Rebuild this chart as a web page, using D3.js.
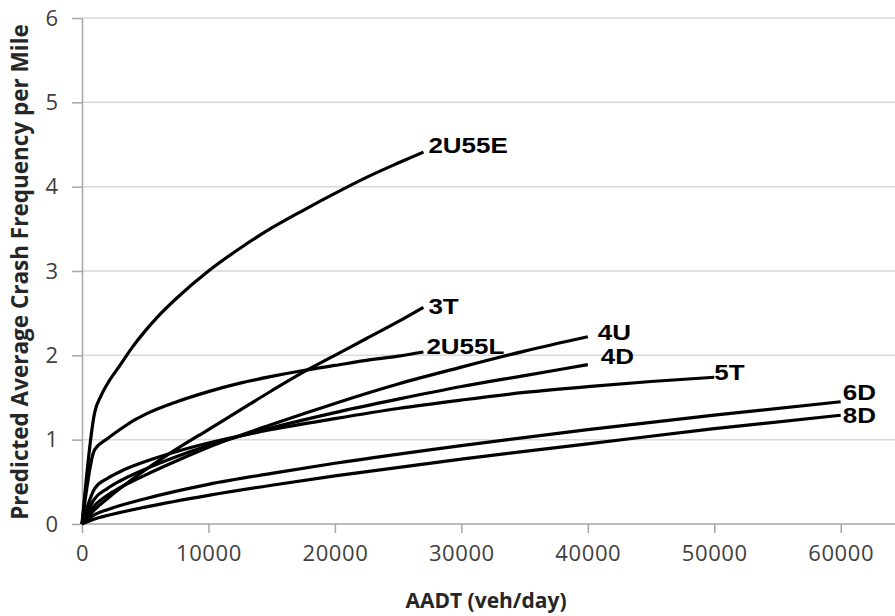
<!DOCTYPE html>
<html>
<head>
<meta charset="utf-8">
<script src="https://cdn.jsdelivr.net/npm/d3@7"></script>
<style>
  html, body { margin: 0; padding: 0; background: #fff; }
  svg { display: block; }
</style>
</head>
<body>
<svg id="chart" width="895" height="616"></svg>
<script>
// Predicted average crash frequency per mile vs. AADT, by facility type
const seriesNames = ["2U55E", "2U55L", "3T", "4U", "4D", "5T", "6D", "8D"];

const aadt2U55E  = [0, 1000, 1500, 2000, 3000, 4000, 5000, 6000, 7500, 10000, 12500, 15000, 17500, 20000, 22500, 25000, 27000];
const crash2U55E = [0, 1.32, 1.52, 1.66, 1.88, 2.10, 2.29, 2.46, 2.68, 3.00, 3.27, 3.51, 3.72, 3.92, 4.11, 4.28, 4.41];

const aadt2U55L  = [0, 1000, 2000, 3000, 4000, 5000, 7500, 10000, 12500, 15000, 17500, 20000, 22500, 25000, 27000];
const crash2U55L = [0, 0.88, 1.01, 1.12, 1.22, 1.30, 1.45, 1.57, 1.67, 1.75, 1.82, 1.88, 1.94, 1.99, 2.04];

const aadt3T  = [0, 1000, 2000, 3000, 5000, 7500, 10000, 12500, 15000, 17500, 20000, 22500, 25000, 27000];
const crash3T = [0, 0.17, 0.30, 0.42, 0.64, 0.89, 1.12, 1.35, 1.58, 1.80, 2.00, 2.20, 2.40, 2.57];

const aadt4U  = [0, 1000, 2000, 3000, 5000, 7500, 10000, 15000, 20000, 25000, 30000, 35000, 40000];
const crash4U = [0, 0.22, 0.34, 0.43, 0.58, 0.75, 0.91, 1.18, 1.43, 1.66, 1.86, 2.05, 2.22];

const aadt4D  = [0, 1000, 2000, 3000, 5000, 7500, 10000, 15000, 20000, 25000, 30000, 35000, 40000];
const crash4D = [0, 0.30, 0.42, 0.51, 0.65, 0.80, 0.93, 1.14, 1.32, 1.48, 1.63, 1.76, 1.89];

const aadt5T  = [0, 1000, 2000, 3000, 5000, 7500, 10000, 15000, 20000, 25000, 30000, 35000, 40000, 45000, 50000];
const crash5T = [0, 0.42, 0.54, 0.62, 0.74, 0.86, 0.96, 1.12, 1.25, 1.37, 1.47, 1.56, 1.63, 1.69, 1.74];

const aadt6D  = [0, 1000, 2000, 5000, 10000, 15000, 20000, 30000, 40000, 50000, 60000];
const crash6D = [0, 0.11, 0.17, 0.30, 0.47, 0.60, 0.72, 0.93, 1.12, 1.29, 1.45];

const aadt8D  = [0, 1000, 2000, 5000, 10000, 15000, 20000, 30000, 40000, 50000, 60000];
const crash8D = [0, 0.06, 0.10, 0.20, 0.34, 0.46, 0.57, 0.77, 0.95, 1.13, 1.29];

const xTicks = [0, 10000, 20000, 30000, 40000, 50000, 60000];
const yTicks = [0, 1, 2, 3, 4, 5, 6];

const xTitle = "AADT (veh/day)";
const yTitle = "Predicted Average Crash Frequency per Mile";

const seriesData = {
  "2U55E": [aadt2U55E, crash2U55E],
  "2U55L": [aadt2U55L, crash2U55L],
  "3T":    [aadt3T, crash3T],
  "4U":    [aadt4U, crash4U],
  "4D":    [aadt4D, crash4D],
  "5T":    [aadt5T, crash5T],
  "6D":    [aadt6D, crash6D],
  "8D":    [aadt8D, crash8D]
};

// Placement of each end-of-line label relative to the last point
const labelOffset = {
  "2U55E": [5, -7], "2U55L": [3, -6], "3T": [5, -1], "4U": [10, -5],
  "4D": [13, -8], "5T": [0, -5], "6D": [2, -9], "8D": [2, 0]
};

const svg = d3.select("#chart");
const plotLeft = 82, plotRight = 895, plotTop = 18, plotBottom = 524;

const x = d3.scaleLinear().domain([0, 60000]).range([plotLeft, 840.7]);
const y = d3.scaleLinear().domain([0, 6]).range([plotBottom, plotTop]);

// Horizontal gridlines
svg.append("g")
  .selectAll("line")
  .data(yTicks.filter(d => d > 0))
  .join("line")
  .attr("x1", plotLeft).attr("x2", plotRight)
  .attr("y1", d => y(d)).attr("y2", d => y(d))
  .attr("stroke", "#d9d9d9").attr("stroke-width", 1.5);

// Y axis
const yAxis = svg.append("g")
  .attr("transform", `translate(${plotLeft},0)`)
  .call(d3.axisLeft(y).tickValues(yTicks).tickFormat(d3.format("d"))
    .tickSize(10).tickSizeOuter(0).tickPadding(14));
yAxis.select(".domain").attr("stroke", "#a6a6a6").attr("stroke-width", 1.5);
yAxis.selectAll(".tick line").attr("stroke", "#a6a6a6").attr("stroke-width", 1.5);
yAxis.selectAll(".tick text")
  .attr("font-family", "'Open Sans', sans-serif")
  .attr("font-size", 22).attr("fill", "#404040");

// X axis
const xAxis = svg.append("g")
  .attr("transform", `translate(0,${plotBottom})`)
  .call(d3.axisBottom(x).tickValues(xTicks).tickFormat(d3.format("d"))
    .tickSize(9).tickSizeOuter(0).tickPadding(12));
xAxis.select(".domain").attr("d", `M${plotLeft},0H${plotRight}`).attr("stroke", "#a6a6a6").attr("stroke-width", 1.5);
xAxis.selectAll(".tick line").attr("stroke", "#a6a6a6").attr("stroke-width", 1.5);
xAxis.selectAll(".tick text")
  .attr("font-family", "'Open Sans', sans-serif")
  .attr("font-size", 22).attr("letter-spacing", 0.6).attr("fill", "#404040");

// Axis titles
svg.append("text")
  .attr("x", 486).attr("y", 608)
  .attr("text-anchor", "middle")
  .attr("font-family", "'Open Sans', sans-serif")
  .attr("font-weight", "bold").attr("font-size", 21).attr("fill", "#262626")
  .text(xTitle);

svg.append("text")
  .attr("transform", "translate(28,272) rotate(-90)")
  .attr("text-anchor", "middle")
  .attr("font-family", "'Open Sans', sans-serif")
  .attr("font-weight", "bold").attr("font-size", 22.5).attr("fill", "#262626")
  .text(yTitle);

// Curves
const line = d3.line()
  .x(d => x(d[0])).y(d => y(d[1]))
  .curve(d3.curveMonotoneX);

const gLines = svg.append("g");
seriesNames.forEach(name => {
  const [xs, ys] = seriesData[name];
  const pts = xs.map((v, i) => [v, ys[i]]);
  gLines.append("path")
    .datum(pts)
    .attr("d", line)
    .attr("fill", "none")
    .attr("stroke", "#000")
    .attr("stroke-width", 3.2)
    .attr("stroke-linejoin", "round");

  const last = pts[pts.length - 1];
  const [dx, dy] = labelOffset[name];
  const lx = x(last[0]) + dx, ly = y(last[1]) + dy;
  gLines.append("text")
    .attr("transform", `translate(${lx},${ly}) scale(1.18,1)`)
    .attr("dominant-baseline", "central")
    .attr("font-family", "'Liberation Sans', Arial, sans-serif")
    .attr("font-weight", "bold").attr("font-size", 22).attr("fill", "#000")
    .text(name);
});
</script>
</body>
</html>
